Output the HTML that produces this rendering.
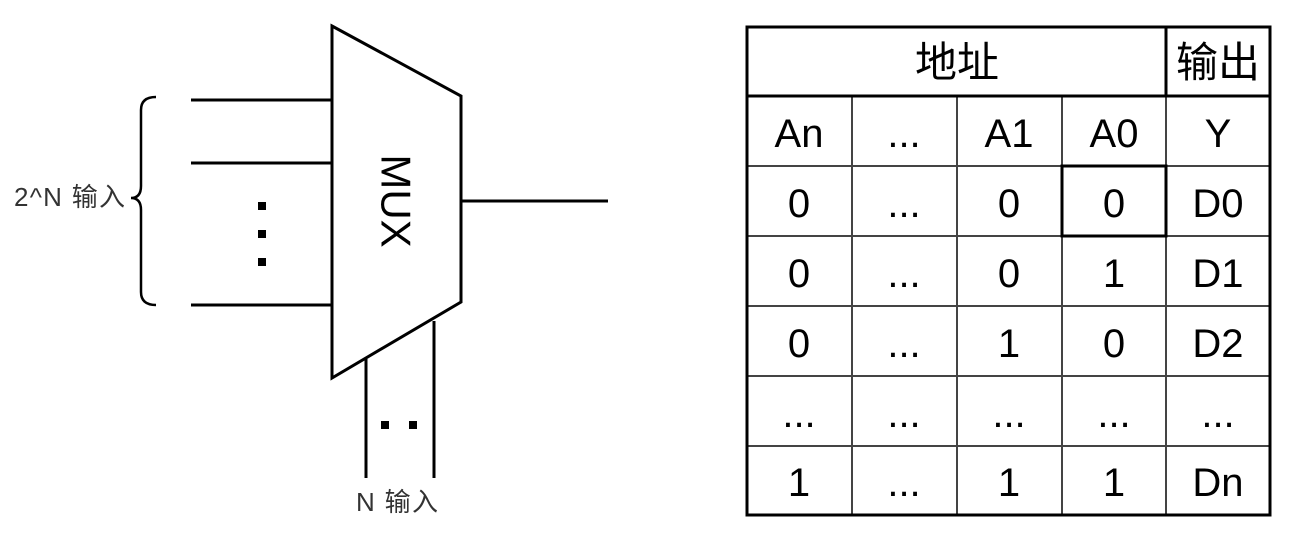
<!DOCTYPE html>
<html><head><meta charset="utf-8"><style>
body{margin:0;width:1296px;height:538px;background:#fff;overflow:hidden}
</style></head><body>
<svg width="1296" height="538" xmlns="http://www.w3.org/2000/svg" font-family="Liberation Sans, Noto Sans CJK SC, sans-serif">
<g stroke="#000" stroke-width="3" fill="none">
<polygon points="332,26 461,96 461,302 332,378" fill="#fff"/>
<line x1="191" y1="100" x2="332" y2="100"/>
<line x1="191" y1="163" x2="332" y2="163"/>
<line x1="191" y1="305" x2="332" y2="305"/>
<line x1="461" y1="201" x2="608" y2="201"/>
<line x1="366" y1="359" x2="366" y2="478"/>
<line x1="434" y1="321" x2="434" y2="478"/>
<path d="M156,97 Q141,97 141,110 L141,186 Q141,198 131,198 Q141,198 141,210 L141,292 Q141,305 156,305" stroke-width="2.5"/>
</g>
<g fill="#000">
<rect x="258" y="202" width="8" height="8"/><rect x="258" y="230" width="8" height="8"/><rect x="258" y="258" width="8" height="8"/>
<rect x="381" y="421" width="8" height="8"/><rect x="409" y="421" width="8" height="8"/>
</g>
<text x="396" y="201" transform="rotate(90 396 201)" text-anchor="middle" dominant-baseline="central" font-size="42">MUX</text>
<text x="14" y="206" font-size="26" fill="#333" textLength="111">2^N 输入</text>
<text x="356" y="511" font-size="26" fill="#333" textLength="82">N 输入</text>
<g stroke="#444" stroke-width="2">
<line x1="852" y1="96" x2="852" y2="515"/><line x1="957" y1="96" x2="957" y2="515"/><line x1="1062" y1="96" x2="1062" y2="515"/>
<line x1="747" y1="166" x2="1270" y2="166"/><line x1="747" y1="236" x2="1270" y2="236"/><line x1="747" y1="306" x2="1270" y2="306"/><line x1="747" y1="376" x2="1270" y2="376"/><line x1="747" y1="446" x2="1270" y2="446"/>
<line x1="1166" y1="96" x2="1166" y2="515"/>
</g>
<g stroke="#000" stroke-width="3" fill="none">
<rect x="747" y="27" width="523" height="488"/>
<line x1="747" y1="96" x2="1270" y2="96"/>
<line x1="1166" y1="27" x2="1166" y2="96"/>
<rect x="1062" y="166" width="104" height="70"/>
</g>
<g font-size="40" text-anchor="middle" fill="#000">
<text x="957" y="77" font-size="42">地址</text><text x="1218" y="77" font-size="42">输出</text>
<text x="799" y="147">An</text><text x="904" y="147">...</text><text x="1009" y="147">A1</text><text x="1114" y="147">A0</text><text x="1218" y="147">Y</text>
<text x="799" y="217">0</text><text x="904" y="217">...</text><text x="1009" y="217">0</text><text x="1114" y="217">0</text><text x="1218" y="217">D0</text>
<text x="799" y="287">0</text><text x="904" y="287">...</text><text x="1009" y="287">0</text><text x="1114" y="287">1</text><text x="1218" y="287">D1</text>
<text x="799" y="357">0</text><text x="904" y="357">...</text><text x="1009" y="357">1</text><text x="1114" y="357">0</text><text x="1218" y="357">D2</text>
<text x="799" y="427">...</text><text x="904" y="427">...</text><text x="1009" y="427">...</text><text x="1114" y="427">...</text><text x="1218" y="427">...</text>
<text x="799" y="496">1</text><text x="904" y="496">...</text><text x="1009" y="496">1</text><text x="1114" y="496">1</text><text x="1218" y="496">Dn</text>
</g>
</svg>
</body></html>
